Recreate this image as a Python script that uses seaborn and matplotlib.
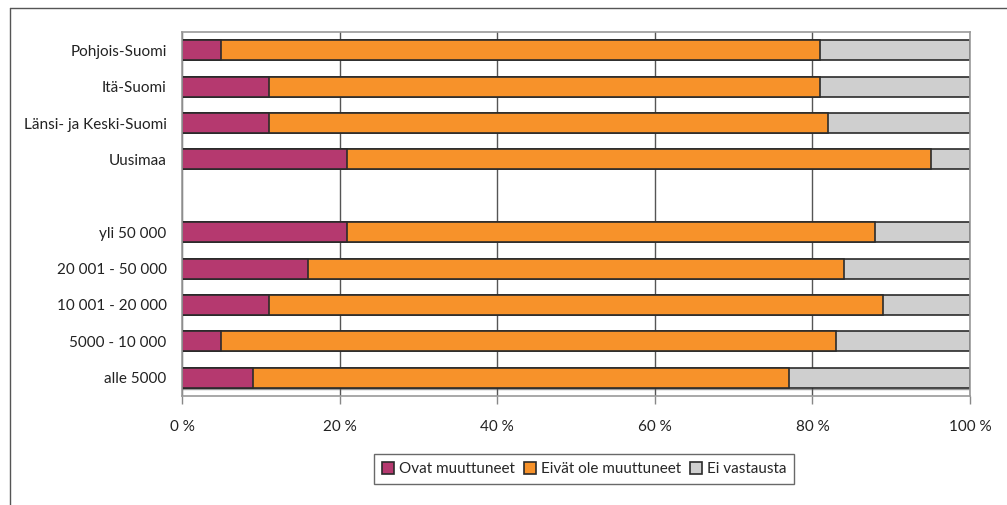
import matplotlib
matplotlib.use("Agg")
import matplotlib.pyplot as plt
import seaborn as sns
import pandas as pd
from matplotlib.lines import Line2D
from matplotlib.patches import Patch

categories = ["Pohjois-Suomi", "Itä-Suomi", "Länsi- ja Keski-Suomi", "Uusimaa",
              "yli 50 000", "20 001 - 50 000", "10 001 - 20 000", "5000 - 10 000", "alle 5000"]
ovat = [5, 11, 11, 21, 21, 16, 11, 5, 9]
eivat = [76, 70, 71, 74, 67, 68, 78, 78, 68]
ei_vast = [19, 19, 18, 5, 12, 16, 11, 17, 23]
series_names = ["Ovat muuttuneet", "Eivät ole muuttuneet", "Ei vastausta"]
x_ticks = [0, 20, 40, 60, 80, 100]
x_labels = ["0 %", "20 %", "40 %", "60 %", "80 %", "100 %"]

colors = ["#B5396F", "#F7922A", "#CFCFCF"]
edge = "#2b2b2b"

sns.set_theme(style="white")
plt.rcParams["font.family"] = ["Lato", "DejaVu Sans"]

order = categories[:4] + [" "] + categories[4:]
df = pd.DataFrame({"cat": categories, "a": ovat, "b": eivat, "c": ei_vast})
df["cum1"] = df["a"]
df["cum2"] = df["a"] + df["b"]
df["cum3"] = df["a"] + df["b"] + df["c"]

fig = plt.figure(figsize=(10.07, 5.05), dpi=100)
ax = fig.add_axes([182/1007, (505-396)/505, 788/1007, 364/505])

for col, c in zip(["cum3", "cum2", "cum1"], colors[::-1]):
    sns.barplot(data=df, y="cat", x=col, order=order, color=c, width=0.55,
                edgecolor=edge, linewidth=1.2, saturation=1, ax=ax, orient="h", errorbar=None)

ax.set_xlim(0, 100)
ax.set_ylim(9.5, -0.5)
ax.set_xticks(x_ticks)
ax.set_xticklabels(x_labels, fontsize=11, color="#222222")
ax.set_xlabel("")
ax.set_ylabel("")
ax.tick_params(axis="y", length=0, pad=11, labelsize=11, labelcolor="#222222")
ax.tick_params(axis="x", length=6, width=1, color="#888888", direction="out", pad=11, bottom=True)
ax.xaxis.grid(True, color="#555555", linewidth=1)
ax.yaxis.grid(False)
ax.set_axisbelow(True)
for s in ax.spines.values():
    s.set_color("#999999")
    s.set_linewidth(1.2)
ax.axhline(9.3, color="#999999", linewidth=1, zorder=0.5)

handles = [Patch(facecolor=c, edgecolor=edge, linewidth=1.2) for c in colors]
leg = fig.legend(handles, series_names, loc="center", bbox_to_anchor=(584/1007, (505-469)/505),
                 ncol=3, frameon=True, fancybox=False, fontsize=11, handlelength=0.8,
                 handleheight=0.8, handletextpad=0.3, columnspacing=0.6, borderpad=0.5)
leg.get_frame().set_edgecolor("#444444")
leg.get_frame().set_linewidth(1)

fig.add_artist(Line2D([10/1007, 10/1007], [0, (505-8)/505], color="#555555", linewidth=1))
fig.add_artist(Line2D([10/1007, 1], [(505-8)/505, (505-8)/505], color="#555555", linewidth=1))

fig.savefig("out.png", dpi=100, facecolor="white")
